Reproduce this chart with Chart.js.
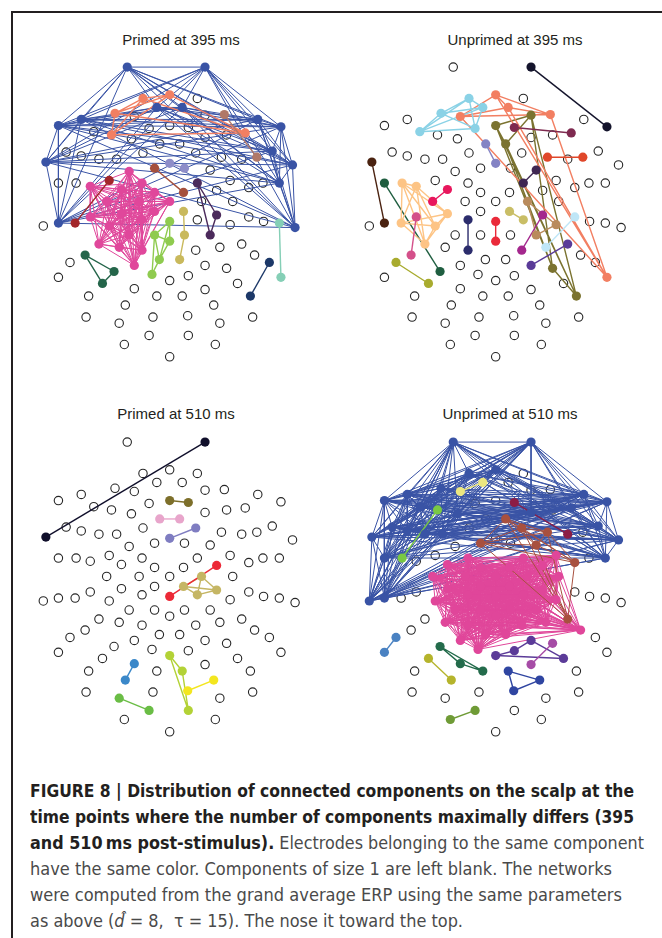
<!DOCTYPE html>
<html>
<head>
<meta charset="utf-8">
<script src="https://cdn.jsdelivr.net/npm/chart.js@4.4.1/dist/chart.umd.min.js"></script>
<style>
  body { margin: 0; background: #fff; width: 662px; height: 938px; position: relative; overflow: hidden;
         font-family: "Liberation Sans", Arial, sans-serif; }
  .frame-l { position: absolute; left: 11px; top: 11px; width: 2px; height: 927px; background: #231f20; }
  .frame-t { position: absolute; left: 11px; top: 11px; width: 651px; height: 2px; background: #231f20; }
  .panel { position: absolute; width: 300px; height: 340px; }
  .ttl { position: absolute; font-size: 15px; line-height: 18px; color: #231f20; transform: translateX(-50%); white-space: nowrap; }
  .cap { position: absolute; left: 30px; font-family: "Liberation Sans Narrow", "DejaVu Sans Condensed", "Liberation Sans", sans-serif;
         font-size: 18px; line-height: 26px; white-space: nowrap; transform-origin: 0 50%; color: #4a4a4a; }
  .cap b { color: #231f20; }
</style>
</head>
<body>
<div class="frame-l"></div>
<div class="frame-t"></div>

<div class="ttl" style="left:181px;top:31px">Primed at 395 ms</div>
<div class="ttl" style="left:515px;top:31px">Unprimed at 395 ms</div>
<div class="ttl" style="left:176px;top:405px">Primed at 510 ms</div>
<div class="ttl" style="left:510px;top:405px">Unprimed at 510 ms</div>

<canvas id="p1" class="panel" width="300" height="340" style="left:20px;top:45px"></canvas>
<canvas id="p2" class="panel" width="300" height="340" style="left:346px;top:45px"></canvas>
<canvas id="p3" class="panel" width="300" height="340" style="left:20px;top:420px"></canvas>
<canvas id="p4" class="panel" width="300" height="340" style="left:346px;top:420px"></canvas>

<div class="cap" data-w="604" style="top:778px"><b>FIGURE 8 | Distribution of connected components on the scalp at the</b></div>
<div class="cap" data-w="604" style="top:804px"><b>time points where the number of components maximally differs (395</b></div>
<div class="cap" data-w="614" style="top:830px"><b>and 510&#8201;ms post-stimulus).</b> Electrodes belonging to the same component</div>
<div class="cap" data-w="582" style="top:856px">have the same color. Components of size 1 are left blank. The networks</div>
<div class="cap" data-w="592" style="top:882px">were computed from the grand average ERP using the same parameters</div>
<div class="cap" data-w="433" style="top:908px">as above (<i>d&#770;</i> = 8,&nbsp; &tau; = 15). The nose it toward the top.</div>

<script>
// electrode layout (scalp units, y grows downward)
const elecX = [317,559,366,449,535,279,409,488,339,559,619,103,174,723,795,213,268,385,449,507,
  559,626,684,330,418,480,127,174,229,284,366,449,530,610,673,720,768,831,64,323,
  402,495,575,103,158,202,261,299,363,402,492,535,595,637,695,739,790,253,354,449,
  548,645,299,402,492,595,535,449,56,103,155,202,261,363,637,695,741,790,839,323,
  402,449,495,575,229,292,363,530,605,673,186,417,480,713,139,339,559,626,759,103,
  276,394,507,795,240,449,660,339,559,488,197,409,700,311,586,505,189,397,707,605,
  292,385,507,308,591,449];
const elecY = [52,52,149,138,149,195,177,177,205,201,199,233,214,214,237,252,262,242,233,239,
  270,262,256,274,290,290,315,327,337,337,318,350,318,331,337,331,312,355,346,375,
  365,365,371,411,411,421,403,431,411,440,440,411,434,403,425,411,411,468,468,468,
  468,468,506,499,499,510,525,530,544,535,535,516,544,525,540,516,530,535,549,572,
  572,591,572,572,600,610,619,619,610,600,634,648,648,634,657,666,666,675,657,703,
  685,694,698,703,722,713,722,738,741,761,761,761,761,789,789,822,826,826,826,845,
  845,883,883,911,911,949];

// components: colour, electrodes, edges ('all' = every pair connected)
const p1Colors = ['#3953a5','#e0479b','#f27f62','#b07868','#a3262a','#a5503d','#8e8dc8','#4b2a5b','#c9b95c','#8fcb4f','#24654a','#1c3868','#85cfb6'];
const p1Nodes = [[0,1,6,7,11,12,13,14,36,37,38,56,69,78],
  [39,45,47,48,49,57,58,59,62,63,71,72,73,79,84,85,86,95],
  [2,3,5,16,22],[10,35],[46,70],[40,50],[31,41],[51,65,83],[64,82,92],[67,80,81,91,101],[90,100,104],[98,112],[77,103]];
const p1Edges = ['all','all','all',[[10,35]],[[46,70]],[[40,50]],[[31,41]],[[51,65],[51,83],[65,83]],[[64,82],[82,92]],
  [[67,80],[67,81],[80,81],[80,91],[81,91],[91,101],[80,101],[67,91]],[[90,100],[100,104],[90,104]],[[98,112]],[[77,103]]];

const p2Colors = ['#7b7330','#f27f62','#8ad2e6','#14142c','#7e2a50','#8483c4','#e0472a','#4a2210','#1f5e40','#fdc485','#e8175d',
  '#d4508a','#a8ab2e','#2b2c6c','#ea2a3a','#c9be66','#3f2752','#b98b5c','#a4278d','#bfe6f7','#5a3b98'];
const p2Nodes = [[9,18,25,97,112],[3,7,8,10,103],[2,5,6,15,17],[1,14],[19,22],[24,31],[33,35],[38,69],[43,100],
  [44,45,62,70,72,84],[47,57],[71,90],[94,104],[73,86],[67,81],[64,66],[42,51],[60,74,83],[65,87],[75,88],[89,96]];
const p2Edges = ['all','all','all',[[1,14]],[[19,22]],[[24,31]],[[33,35]],[[38,69]],[[43,100]],'all',[[47,57]],[[71,90]],
  [[94,104]],[[73,86]],[[67,81]],[[64,66]],[[42,51]],[[60,74],[74,83],[60,83]],[[65,87]],[[75,88]],[[89,96]]];

const p3Colors = ['#100f2b','#7d6f2a','#e8a5cb','#7f7dc1','#c5b664','#ec2937','#b3d236','#f3e61f','#3b88c9','#6abd45'];
const p3Nodes = [[1,38],[18,19],[24,25],[31,32],[60,64,65,66],[52,67],[105,109,122],[114,115],[107,113],[120,121]];
const p3Edges = [[[1,38]],[[18,19]],[[24,25]],[[31,32]],'all',[[52,67]],[[105,109],[105,122],[109,122]],[[114,115]],[[107,113]],[[120,121]]];

const p4Colors = ['#3953a5','#ebe680','#79c843','#8c1d45','#e0469a','#a8503f','#4a82c2','#236b4b','#b5b42c','#6f9b36','#5b3b98','#a64ca6','#2f45a1'];
const p4Nodes = [[0,1,2,3,5,11,12,13,14,15,20,22,23,26,27,28,29,36,37,38,43,56,68,69],
  [6,8],[16,44],[19,34],
  [47,48,49,50,51,52,53,57,58,59,60,61,62,63,64,65,66,67,72,73,74,79,80,81,82,83,85,86,87,88,91,92,93,95,101],
  [25,32,33,40,42,54,89],[94,99],[100,107,111],[104,113],[121,123],[96,102,105,106],[97,108],[109,114,115]];
const p4Edges = ['all',[[6,8]],[[16,44]],[[19,34]],'all','all',[[94,99]],[[100,107],[107,111],[100,111]],[[104,113]],[[121,123]],
  [[105,102],[102,96],[96,106],[105,106]],[[97,108]],[[109,114],[114,115],[109,115]]];

function pt(i) { return { x: elecX[i], y: elecY[i] }; }

function buildDatasets(colors, nodes, edges) {
  const ds = [];
  const used = new Set();
  const n = colors.length;
  colors.forEach((c, ci) => {
    nodes[ci].forEach(i => used.add(i));
    let pairs = edges[ci];
    if (pairs === 'all') {
      pairs = [];
      const nn = nodes[ci];
      for (let a = 0; a < nn.length; a++)
        for (let b = a + 1; b < nn.length; b++) pairs.push([nn[a], nn[b]]);
    }
    const dense = pairs.length > 20;
    const line = [];
    pairs.forEach(([a, b]) => { line.push(pt(a), pt(b), { x: null, y: null }); });
    ds.push({
      data: line, showLine: true, spanGaps: false, pointRadius: 0, pointHoverRadius: 0,
      borderColor: c, borderWidth: dense ? 1 : 1.4, clip: false, order: 500 + n - ci
    });
    ds.push({
      data: nodes[ci].map(pt), showLine: false, pointRadius: 4.6, pointHoverRadius: 4.6,
      pointBackgroundColor: c, pointBorderColor: c, pointBorderWidth: 0, clip: false, order: 10
    });
  });
  const open = elecX.map((_, i) => i).filter(i => !used.has(i));
  ds.push({
    data: open.map(pt), showLine: false, pointRadius: 4.2, pointHoverRadius: 4.2,
    pointBackgroundColor: '#ffffff', pointBorderColor: '#262626', pointBorderWidth: 1.1, clip: false, order: 1000
  });
  return ds;
}

function drawPanel(id, colors, nodes, edges) {
  const ctx = document.getElementById(id).getContext('2d');
  new Chart(ctx, {
    type: 'scatter',
    data: { datasets: buildDatasets(colors, nodes, edges) },
    options: {
      responsive: false,
      animation: false,
      events: [],
      layout: { padding: 0 },
      plugins: { legend: { display: false }, tooltip: { enabled: false } },
      scales: {
        x: { type: 'linear', display: false, min: 0, max: 900 },
        y: { type: 'linear', display: false, min: 0, max: 1020, reverse: true }
      }
    }
  });
}

drawPanel('p1', p1Colors, p1Nodes, p1Edges);
drawPanel('p2', p2Colors, p2Nodes, p2Edges);
drawPanel('p3', p3Colors, p3Nodes, p3Edges);
drawPanel('p4', p4Colors, p4Nodes, p4Edges);

// fit caption lines to the measured widths
document.querySelectorAll('.cap').forEach(el => {
  const w = el.getBoundingClientRect().width;
  el.style.transform = 'scaleX(' + (parseFloat(el.dataset.w) / w) + ')';
});
</script>
</body>
</html>
